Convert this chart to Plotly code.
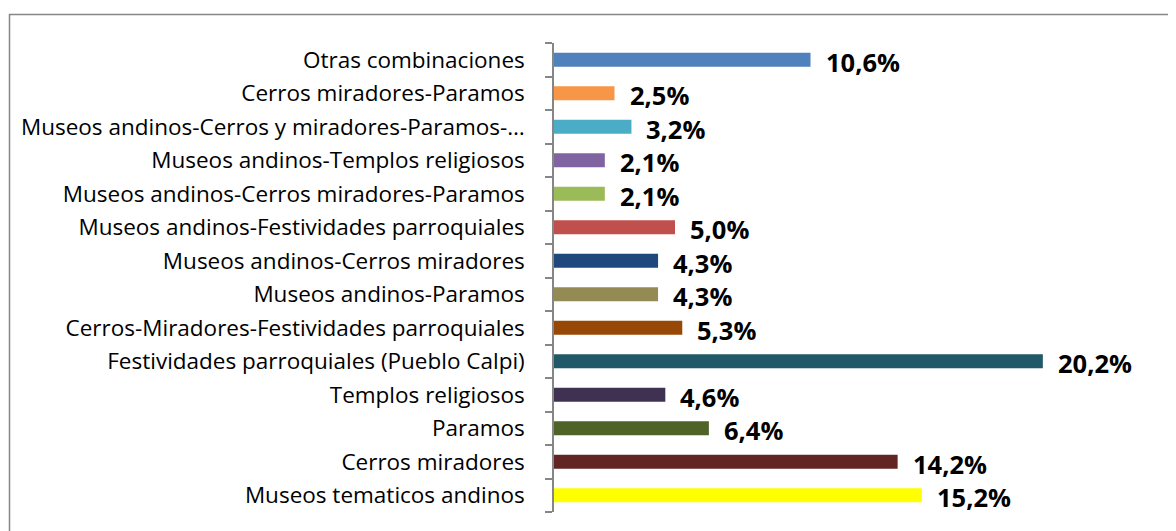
import plotly.graph_objects as go

categories = [
    "Museos tematicos andinos",
    "Cerros miradores",
    "Paramos",
    "Templos religiosos",
    "Festividades parroquiales (Pueblo Calpi)",
    "Cerros-Miradores-Festividades parroquiales",
    "Museos andinos-Paramos",
    "Museos andinos-Cerros miradores",
    "Museos andinos-Festividades parroquiales",
    "Museos andinos-Cerros miradores-Paramos",
    "Museos andinos-Templos religiosos",
    "Museos andinos-Cerros y miradores-Paramos-…",
    "Cerros miradores-Paramos",
    "Otras combinaciones",
]
values = [15.2, 14.2, 6.4, 4.6, 20.2, 5.3, 4.3, 4.3, 5.0, 2.1, 2.1, 3.2, 2.5, 10.6]
labels = ["15,2%", "14,2%", "6,4%", "4,6%", "20,2%", "5,3%", "4,3%", "4,3%",
          "5,0%", "2,1%", "2,1%", "3,2%", "2,5%", "10,6%"]
colors = ["#FFFF00", "#632523", "#4F6228", "#3F3151", "#215968", "#974806",
          "#948A54", "#1F497D", "#C0504D", "#9BBB59", "#8064A2", "#4BACC6",
          "#F79646", "#4F81BD"]

FONT = "'Open Sans', sans-serif"

fig = go.Figure(go.Bar(
    x=values, y=categories, orientation="h",
    marker=dict(color=colors, line=dict(width=0)),
    width=0.42, hoverinfo="skip",
))

for c, v, t in zip(categories, values, labels):
    fig.add_annotation(x=v, y=c, text=t, showarrow=False, xanchor="left",
                       xshift=13, yshift=-2,
                       font=dict(family=FONT, size=25.5, color="#000000", weight="bold"))

# page body has an 8px margin; figure coordinates are offset by it
OFF = 8
W, H = 1176 - OFF, 531 - OFF
L, R, T, B = 554 - OFF, 0, 43 - OFF, 531 - 512
pw, ph = W - L - R, H - T - B
def px(x):
    return (x - OFF - L) / pw
def py(y):
    return (H - B - (y - OFF)) / ph

fig.add_shape(type="path", xref="paper", yref="paper",
              path=f"M {px(9.5)},{py(545)} L {px(9.5)},{py(14.5)} L {px(1190)},{py(14.5)}",
              line=dict(color="#868686", width=1.5))

fig.update_layout(
    width=W, height=H,
    margin=dict(l=L, r=R, t=T, b=B),
    paper_bgcolor="white", plot_bgcolor="white",
    showlegend=False,
    font=dict(family=FONT, size=22.5, color="#000000"),
    xaxis=dict(range=[0, pw / 24.2], visible=False, fixedrange=True),
    yaxis=dict(type="category", range=[-0.5, 13.5], showline=True,
               linecolor="#868686", linewidth=1.5, ticks="outside",
               tickson="boundaries", ticklen=7, tickcolor="#868686",
               tickwidth=1.5, ticklabelstandoff=23, showgrid=False,
               tickfont=dict(family=FONT, size=22.5, color="#000000")),
)

fig.write_html("out.html")
